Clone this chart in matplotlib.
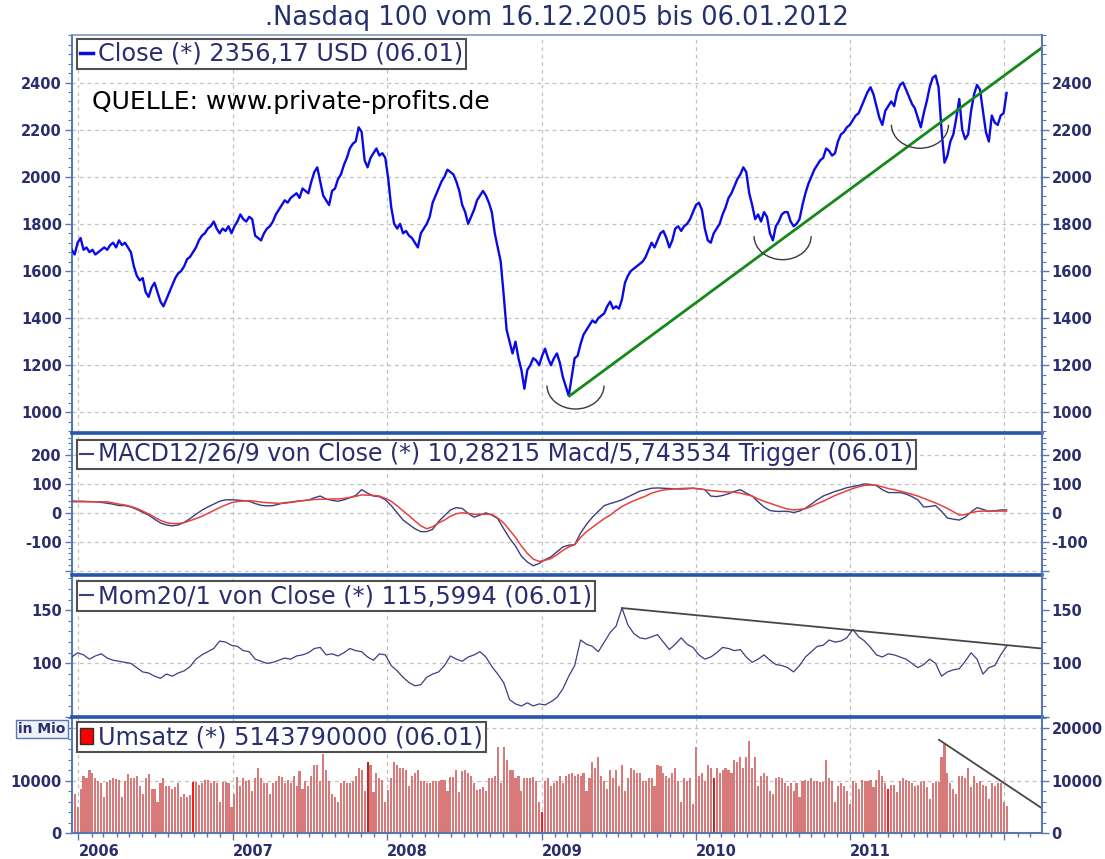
import numpy as np
import matplotlib.pyplot as plt
import matplotlib.dates as mdates
from matplotlib.lines import Line2D
from matplotlib.patches import Patch, Arc
from matplotlib.ticker import MultipleLocator

# weekly closes (Fridays), 16.12.2005 .. 06.01.2012
close_2005 = [1690, 1670, 1720]
close_2006 = [1740, 1690, 1700, 1680, 1690, 1670, 1680, 1690, 1700, 1690, 1710, 1720, 1700,
              1730, 1710, 1720, 1700, 1680, 1620, 1580, 1560, 1570, 1510, 1490, 1530, 1550,
              1510, 1470, 1450, 1480, 1510, 1540, 1570, 1590, 1600, 1620, 1650, 1660, 1680,
              1700, 1730, 1750, 1760, 1780, 1790, 1810, 1780, 1760, 1780, 1770, 1790, 1760]
close_2007 = [1790, 1810, 1840, 1820, 1810, 1830, 1820, 1750, 1740, 1730, 1760, 1780, 1790,
              1810, 1840, 1860, 1880, 1900, 1890, 1910, 1920, 1930, 1910, 1950, 1940, 1930,
              1980, 2020, 2040, 1980, 1920, 1900, 1880, 1940, 1950, 1990, 2010, 2050, 2080,
              2120, 2140, 2150, 2210, 2190, 2070, 2040, 2080, 2100, 2120, 2090, 2100, 2080]
close_2008 = [1990, 1870, 1800, 1780, 1800, 1760, 1770, 1750, 1740, 1720, 1700, 1760, 1780,
              1800, 1830, 1890, 1920, 1950, 1980, 2000, 2030, 2020, 2010, 1980, 1940, 1880,
              1850, 1800, 1830, 1860, 1900, 1920, 1940, 1920, 1890, 1850, 1760, 1700, 1640,
              1500, 1350, 1300, 1250, 1300, 1230, 1180, 1100, 1180, 1200, 1230, 1220, 1200]
close_2009 = [1240, 1270, 1230, 1200, 1230, 1250, 1210, 1150, 1110, 1070, 1150, 1230, 1240,
              1290, 1330, 1350, 1370, 1390, 1380, 1400, 1410, 1420, 1450, 1470, 1440, 1450,
              1440, 1480, 1550, 1580, 1600, 1610, 1620, 1630, 1640, 1660, 1690, 1720, 1700,
              1730, 1760, 1770, 1740, 1700, 1730, 1780, 1790, 1770, 1790, 1800, 1820, 1850]
close_2010 = [1880, 1890, 1860, 1780, 1730, 1720, 1760, 1780, 1800, 1840, 1870, 1910, 1930,
              1960, 1990, 2010, 2040, 2020, 1930, 1880, 1820, 1840, 1810, 1850, 1830, 1760,
              1730, 1790, 1810, 1840, 1850, 1850, 1810, 1790, 1800, 1820, 1880, 1930, 1970,
              2000, 2030, 2050, 2070, 2080, 2120, 2110, 2090, 2100, 2150, 2180, 2190, 2210, 2220]
close_2011 = [2240, 2260, 2270, 2300, 2330, 2360, 2380, 2350, 2300, 2250, 2220, 2280,
              2300, 2320, 2300, 2360, 2390, 2400, 2370, 2340, 2310, 2290, 2250, 2210, 2270,
              2320, 2380, 2420, 2430, 2380, 2200, 2060, 2090, 2150, 2180, 2250, 2330, 2200, 2160,
              2180, 2280, 2350, 2390, 2370, 2280, 2190, 2150, 2260, 2230, 2220, 2260, 2270]
close_2012 = [2356]

# weekly turnover in thousands of Mio
vol_2005 = [10.0, 7.5, 5.0]
vol_2006 = [8.5, 11.0, 10.5, 12.0, 11.5, 10.5, 10.0, 9.5, 7.0, 9.8, 10.2, 10.5, 10.3,
            10.2, 7.0, 10.0, 11.3, 10.5, 10.6, 11.0, 9.0, 7.5, 10.5, 11.2, 8.5, 8.5,
            6.0, 9.5, 10.5, 9.0, 9.0, 8.5, 8.8, 9.5, 7.0, 7.5, 7.0, 7.2, 9.8,
            9.8, 9.2, 9.5, 10.2, 10.2, 9.5, 10.0, 9.5, 6.0, 9.8, 9.8, 9.5, 5.0]
vol_2007 = [7.5, 10.8, 9.0, 10.5, 10.0, 10.2, 8.0, 10.5, 12.5, 10.5, 9.5, 9.5, 7.5,
            9.5, 10.0, 11.0, 10.8, 9.5, 10.2, 9.5, 11.0, 9.0, 11.8, 8.5, 10.0, 9.0,
            11.0, 13.0, 13.0, 10.0, 15.0, 12.0, 10.0, 7.5, 7.0, 6.0, 9.5, 10.0, 9.5,
            9.5, 10.0, 11.0, 12.5, 12.0, 8.0, 13.5, 13.0, 7.8, 11.5, 10.5, 10.2, 6.0]
vol_2008 = [8.2, 10.5, 13.5, 13.0, 12.5, 12.5, 12.0, 9.0, 11.0, 11.5, 12.0, 10.0, 10.0,
            9.5, 9.5, 10.0, 10.0, 10.0, 10.2, 10.2, 8.0, 10.8, 10.8, 12.0, 7.8, 11.8,
            12.0, 11.5, 11.0, 9.5, 8.2, 8.5, 8.8, 8.0, 10.5, 10.5, 11.0, 16.5, 9.5,
            16.5, 14.0, 12.0, 12.0, 10.5, 11.0, 8.0, 10.5, 10.5, 10.5, 10.8, 10.0, 6.0]
vol_2009 = [4.0, 10.0, 10.5, 9.0, 9.5, 10.0, 11.0, 9.5, 11.0, 11.2, 11.5, 11.0, 11.2,
            11.0, 11.5, 8.0, 10.5, 13.5, 12.5, 14.5, 11.0, 10.0, 8.5, 12.0, 10.5, 12.0,
            9.0, 13.0, 8.0, 10.5, 12.5, 12.0, 11.5, 11.5, 10.0, 10.0, 10.5, 10.5, 9.0,
            13.0, 12.8, 11.5, 11.0, 10.5, 11.5, 12.5, 10.0, 6.0, 10.5, 10.0, 10.5, 5.5]
vol_2010 = [16.5, 11.0, 11.5, 10.0, 13.0, 12.5, 10.5, 12.5, 11.5, 12.0, 12.5, 12.0, 11.5,
            14.0, 13.5, 14.5, 12.5, 14.5, 17.5, 12.5, 14.5, 9.0, 11.0, 11.5, 11.0, 8.0,
            7.5, 10.5, 10.8, 10.5, 9.5, 9.0, 9.5, 8.0, 9.5, 7.0, 10.0, 10.2, 10.0,
            10.5, 10.0, 10.0, 9.8, 9.8, 14.0, 10.5, 10.0, 6.0, 9.0, 9.5, 9.0, 8.0, 5.5]
vol_2011 = [10.0, 9.5, 8.5, 10.2, 10.0, 10.0, 10.2, 8.8, 10.2, 12.0, 11.0, 9.5,
            8.5, 9.2, 9.2, 7.8, 10.0, 10.5, 10.2, 10.0, 9.5, 9.0, 9.2, 9.8, 10.0,
            8.8, 6.5, 9.5, 9.8, 9.8, 14.5, 17.0, 11.5, 9.5, 8.5, 7.5, 11.0, 11.0, 10.5,
            12.5, 8.8, 11.0, 9.5, 10.0, 9.2, 9.0, 6.5, 9.5, 9.0, 9.5, 9.5, 6.0]
vol_2012 = [5.14]
vol_bright = ['2006-09-29', '2009-01-02', '2011-04-01']
vol_dark = ['2007-11-16', '2010-02-12']

# two-weekly indicator readings
macd = [41, 40, 40, 39, 38, 36, 33, 30, 25, 25,
        20, 12, 2, -8, -22, -35, -42, -45, -42, -33,
        -20, -5, 9, 20, 30, 40, 45, 45, 44, 42,
        40, 32, 26, 24, 25, 30, 35, 37, 40, 42,
        44, 52, 58, 48, 43, 40, 45, 52, 60, 80,
        68, 58, 56, 45, 25, 0, -25, -40, -55, -65,
        -65, -57, -30, -10, 10, 18, 15, -2, -15, -8,
        0, -8, -20, -55, -88, -115, -150, -170, -183, -175,
        -162, -152, -135, -118, -112, -110, -70, -40, -15, 5,
        25, 32, 38, 45, 55, 65, 75, 80, 85, 86,
        85, 84, 83, 82, 83, 85, 83, 80, 58, 56,
        60, 66, 74, 80, 68, 58, 38, 20, 8, 5,
        5, 5, 1, 6, 16, 30, 45, 58, 66, 74,
        80, 87, 91, 95, 100, 98, 94, 80, 70, 70,
        70, 65, 56, 45, 20, 22, 25, 5, -18, -22,
        -25, -15, 3, 18, 12, 5, 7, 10, 10]
trigger = [38, 38, 38, 38, 38, 38, 38, 34, 30, 27,
           22, 15, 6, -4, -15, -26, -34, -37, -37, -34,
           -27, -20, -12, -2, 8, 18, 27, 35, 39, 41,
           42, 40, 37, 35, 34, 33, 33, 36, 39, 42,
           44, 46, 47, 47, 48, 48, 50, 53, 57, 62,
           61, 60, 58, 50, 40, 24, 7, -10, -28, -45,
           -55, -48, -35, -25, -12, -3, 0, -2, -5, -5,
           -5, -5, -18, -35, -60, -85, -115, -140, -160, -168,
           -164, -158, -145, -130, -118, -110, -85, -65, -50, -35,
           -20, -8, 8, 22, 32, 42, 50, 58, 68, 74,
           79, 81, 83, 84, 85, 85, 83, 80, 77, 75,
           73, 72, 71, 68, 63, 58, 48, 40, 33, 26,
           19, 13, 10, 12, 14, 22, 32, 40, 50, 60,
           68, 76, 84, 90, 95, 96, 95, 90, 84, 80,
           75, 70, 64, 58, 50, 42, 34, 25, 15, 4,
           -8, -6, 0, 5, 6, 6, 6, 6, 6]
mom = [106, 110, 108, 104, 107, 109, 105, 103, 102, 101,
       100, 96, 92, 91, 88, 86, 90, 88, 91, 93,
       97, 104, 108, 111, 114, 121, 120, 117, 116, 112,
       111, 104, 102, 100, 101, 103, 105, 104, 107, 108,
       110, 114, 115, 108, 109, 107, 110, 114, 112, 111,
       106, 103, 109, 108, 98, 93, 87, 82, 79, 80,
       87, 90, 92, 98, 107, 104, 102, 106, 108, 111,
       106, 97, 90, 82, 66, 62, 60, 63, 60, 62,
       61, 64, 68, 76, 88, 98, 122, 118, 116, 111,
       120, 129, 135, 152, 136, 128, 124, 123, 125, 127,
       120, 113, 118, 124, 118, 115, 108, 104, 106, 110,
       115, 114, 112, 113, 106, 101, 104, 108, 103, 99,
       98, 96, 92, 98, 106, 111, 116, 117, 122, 120,
       121, 124, 132, 125, 121, 115, 108, 106, 109, 108,
       106, 104, 100, 96, 99, 104, 100, 88, 92, 94,
       95, 102, 110, 104, 90, 96, 98, 108, 116]

# hand-drawn trend lines and cup marks
green_dates = ['2009-03-08', '2012-03-29']
green_vals = [1070, 2547]
mom_trend_dates = ['2009-07-10', '2012-03-29']
mom_trend_vals = [152, 114]
vol_trend_dates = ['2011-07-30', '2012-03-29']
vol_trend_vals = [17800, 4800]
cup_dates = ['2009-03-22', '2010-07-25', '2011-06-15']
cup_levels = [1114, 1748, 2221]

NAVY = '#2a2d6e'
AXBLUE = '#5878b4'
SEP = '#2456ad'
GRID = '#c2c2c2'


def dnum(seq):
    return mdates.date2num(np.array(seq, dtype='datetime64[D]'))


weeks = np.arange(np.datetime64('2005-12-16'), np.datetime64('2012-01-07'), np.timedelta64(7, 'D'))
xw = mdates.date2num(weeks)
x2 = xw[::2]
close = np.array(close_2005 + close_2006 + close_2007 + close_2008 + close_2009
                 + close_2010 + close_2011 + close_2012)
volume = np.array(vol_2005 + vol_2006 + vol_2007 + vol_2008 + vol_2009
                  + vol_2010 + vol_2011 + vol_2012) * 1000

fig = plt.figure(figsize=(11.05, 8.59), dpi=100)
L, W = 0.0649, 0.8778
ax1 = fig.add_axes([L, 0.4956, W, 0.4637])
ax2 = fig.add_axes([L, 0.3306, W, 0.1650], sharex=ax1)
ax3 = fig.add_axes([L, 0.1657, W, 0.1649], sharex=ax1)
ax4 = fig.add_axes([L, 0.0299, W, 0.1358], sharex=ax1)

years = dnum(['%d-01-01' % y for y in range(2006, 2013)])


def style_panel(ax, ylim, major, minor, left_lab, right_lab, grid_y, top_lw):
    ax.set_ylim(*ylim)
    ax.set_yticks(major, labels=[str(v) if v in left_lab else '' for v in major],
                  fontweight='bold')
    ax.yaxis.set_minor_locator(MultipleLocator(minor))
    tw = ax.twinx()
    tw.set_ylim(*ylim)
    tw.set_yticks(major, labels=[str(v) if v in right_lab else '' for v in major],
                  fontweight='bold')
    tw.yaxis.set_minor_locator(MultipleLocator(minor))
    for a in (ax, tw):
        a.tick_params(axis='y', which='major', direction='out', length=5, width=1,
                      color=AXBLUE, labelcolor=NAVY, labelsize=10.5, pad=2)
        a.tick_params(axis='y', which='minor', direction='out', length=3, width=0.8,
                      color=AXBLUE)
        for s in a.spines.values():
            s.set_visible(False)
    ax.spines['left'].set_visible(True)
    ax.spines['left'].set_color(AXBLUE)
    ax.spines['left'].set_linewidth(1.5)
    tw.spines['right'].set_visible(True)
    tw.spines['right'].set_color(AXBLUE)
    tw.spines['right'].set_linewidth(1.5)
    ax.spines['top'].set_visible(True)
    ax.spines['top'].set_linewidth(top_lw)
    ax.spines['top'].set_color(SEP if top_lw > 2 else '#7d97c6')
    ax.tick_params(axis='x', which='both', length=0, labelbottom=False)
    for y in grid_y:
        ax.axhline(y, color=GRID, lw=0.9, ls=(0, (3, 3)), zorder=0)
    for xv in years:
        ax.axvline(xv, color=GRID, lw=0.9, ls=(0, (3, 3)), zorder=0)


def panel_legend(ax, handle, text, top, size=17.3):
    leg = ax.legend([handle], [text], loc='upper left', bbox_to_anchor=(0.0055, top),
                    frameon=True, fancybox=False, edgecolor='#505050', framealpha=1,
                    fontsize=size, labelcolor=NAVY, handlelength=0.55, handleheight=0.6,
                    handletextpad=0.2, borderpad=0.12, borderaxespad=0)
    leg.get_frame().set_linewidth(1.5)
    leg.set_zorder(10)


ax1.set_xlim(dnum(['2005-12-16'])[0], dnum(['2012-03-29'])[0])

# price panel
style_panel(ax1, (911, 2602), list(range(1000, 2401, 200)), 40,
            list(range(1000, 2401, 200)), list(range(1000, 2401, 200)),
            range(1000, 2401, 200), 1.2)
ax1.plot(xw, close, color='#0a0ae6', lw=1.7, zorder=3)
ax1.plot(dnum(green_dates), green_vals, color='#15881a', lw=2.0, zorder=4)
for d, lev in zip(dnum(cup_dates), cup_levels):
    ax1.add_patch(Arc((d, lev), 135, 200, theta1=180, theta2=360,
                      color='#3a3a3a', lw=1.0, zorder=4))
ax1.text(0.021, 0.832, 'QUELLE: www.private-profits.de', transform=ax1.transAxes,
         fontsize=18, color='black', va='center', ha='left', zorder=6)
panel_legend(ax1, Line2D([], [], color='#0a0ae6', lw=2.5), 'Close (*) 2356,17 USD (06.01)', 0.99)

# MACD panel
style_panel(ax2, (-215, 275), [-200, -100, 0, 100, 200], 20,
            [-100, 0, 100, 200], [-100, 0, 100, 200], [-200, -100, 0, 100, 200], 2.6)
ax2.plot(x2, macd, color='#3b3f80', lw=1.0, zorder=3)
ax2.plot(x2, trigger, color='#e8413c', lw=1.1, zorder=3)
panel_legend(ax2, Line2D([], [], color='#3b3f80', lw=1.5),
             'MACD12/26/9 von Close (*) 10,28215 Macd/5,743534 Trigger (06.01)', 0.955, 17.0)

# Momentum panel
style_panel(ax3, (50, 183), [50, 100, 150], 10, [100, 150], [100, 150], [100], 2.6)
ax3.plot(x2, mom, color='#3b3f80', lw=0.9, zorder=3)
ax3.plot(dnum(mom_trend_dates), mom_trend_vals, color='#474747', lw=1.3, zorder=4)
panel_legend(ax3, Line2D([], [], color='#3b3f80', lw=1.5),
             'Mom20/1 von Close (*) 115,5994 (06.01)', 0.955)

# turnover panel
style_panel(ax4, (0, 22200), [0, 10000, 20000], 2000, [0, 10000], [0, 10000, 20000],
            [10000, 20000], 2.6)
bar_colors = ['#d97a7a'] * len(xw)
for d in vol_bright:
    bar_colors[int(np.argmin(np.abs(xw - dnum([d])[0])))] = '#ff1a1a'
for d in vol_dark:
    bar_colors[int(np.argmin(np.abs(xw - dnum([d])[0])))] = '#b52a2a'
ax4.bar(xw, volume, width=5.0, color=bar_colors, edgecolor='none', zorder=2)
ax4.plot(dnum(vol_trend_dates), vol_trend_vals, color='#474747', lw=1.3, zorder=4)
panel_legend(ax4, Patch(facecolor='#ff0000', edgecolor='#303030', lw=1.0),
             'Umsatz (*) 5143790000 (06.01)', 0.95)
ax4.spines['bottom'].set_visible(True)
ax4.spines['bottom'].set_color(AXBLUE)
ax4.spines['bottom'].set_linewidth(1.5)
ax4.set_xticks(years, labels=['2006', '2007', '2008', '2009', '2010', '2011', ''],
               ha='left', fontweight='bold')
ax4.xaxis.set_minor_locator(mdates.MonthLocator())
ax4.tick_params(axis='x', which='major', length=5, width=1, color=AXBLUE,
                labelbottom=True, labelcolor=NAVY, labelsize=10.5, pad=3)
ax4.tick_params(axis='x', which='minor', length=3, width=1, color=AXBLUE)

fig.text(42 / 1105, 1 - 729 / 859, 'in Mio', ha='center', va='center', fontsize=10,
         fontweight='bold', color=NAVY,
         bbox=dict(boxstyle='square,pad=0.15', fc='#eef2f8', ec=AXBLUE, lw=1))
fig.text(0.504, 0.979, '.Nasdaq 100 vom 16.12.2005 bis 06.01.2012', ha='center',
         va='center', fontsize=18.5, color='#23306e')

fig.savefig('out.png', dpi=100)
